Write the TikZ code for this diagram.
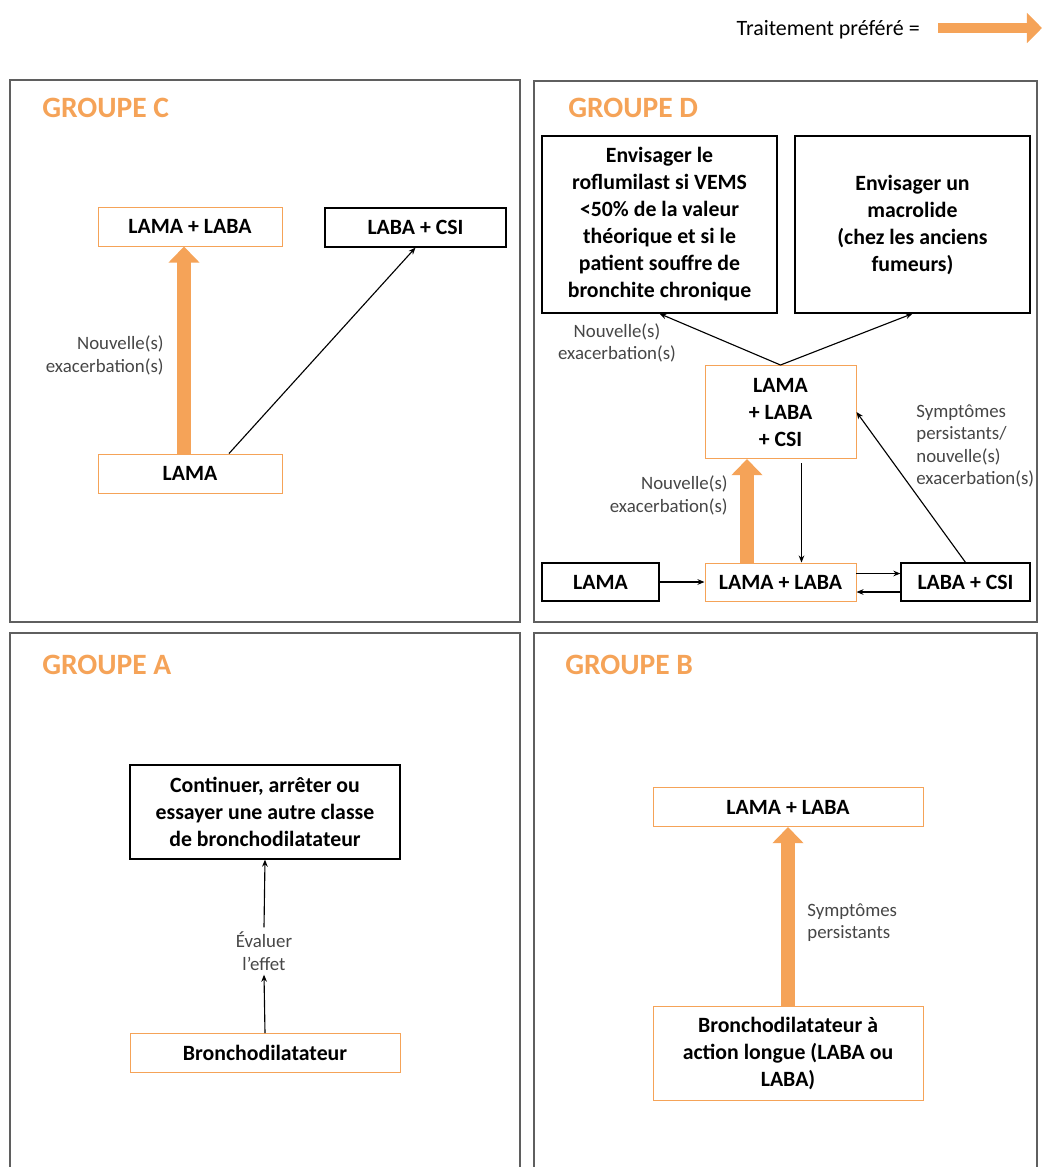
\documentclass[tikz,border=0pt]{standalone}
\usepackage{fontspec}
\setmainfont{Carlito}
\usetikzlibrary{arrows.meta,calc}

\definecolor{prefOrange}{RGB}{245,163,88}
\definecolor{labelGray}{RGB}{70,70,70}
\definecolor{frameGray}{RGB}{95,95,95}

\tikzset{
  panel/.style={draw=frameGray, line width=1.1pt},
  box/.style={draw=black, line width=0.9pt, fill=white, inner sep=0pt, align=center,
    font=\fontsize{15.5}{19.2}\selectfont\bfseries},
  prefbox/.style={box, draw=prefOrange, line width=0.7pt},
  grouptitle/.style={anchor=west, inner sep=0pt, text=prefOrange,
    font=\fontsize{21}{25}\selectfont\bfseries},
  note/.style={inner sep=1.5pt, text=labelGray, font=\fontsize{13.4}{16}\selectfont},
  link/.style={-{Stealth[length=5pt,width=4pt]}, line width=0.8pt},
  pref/.style={-{Triangle[length=11.5pt,width=21.5pt]}, draw=prefOrange, line width=9.8pt},
}

\begin{document}
\begin{tikzpicture}[x=0.025cm, y=-0.025cm]
			\def\pxlen{0.025cm}

			\useasboundingbox (0,0) rectangle (1043,1167);

			% Legend
			\node[anchor=base east, inner sep=0pt, font=\fontsize{15.6}{19}\selectfont] (legText) at (920,35) {Traitement préféré =};
			\coordinate (legStart) at (938,28);
			\coordinate (legEnd) at (1042,28);
			\draw[pref, line width=6.8pt, -{Triangle[length=10.7pt,width=21pt]}] (legStart) -- (legEnd);

			% Panels
			\draw[panel] (10,80) rectangle (520,622);
			\draw[panel] (534,81) rectangle (1037,622);
			\draw[panel] (10,1175) |- (520,633) -- (520,1175);
			\draw[panel] (534,1175) |- (1037,633) -- (1037,1175);

			% Titles
			\node[grouptitle] (titleC) at (42,108) {GROUPE C};
			\node[grouptitle] (titleD) at (568,108) {GROUPE D};
			\node[grouptitle] (titleA) at (42,664.5) {GROUPE A};
			\node[grouptitle] (titleB) at (565,664.5) {GROUPE B};

			% Groupe C
			\node[prefbox, minimum width=184*\pxlen, minimum height=39*\pxlen] (cLL) at (190,226.5) {LAMA + LABA};
			\node[box, minimum width=181*\pxlen, minimum height=39*\pxlen] (cLC) at (415.5,227.5) {LABA + CSI};
			\node[prefbox, minimum width=184*\pxlen, minimum height=39*\pxlen] (cL) at (190,473.5) {LAMA};
			\node[note, anchor=east, align=right] (cNote) at (166,355.5) {Nouvelle(s)\\exacerbation(s)};

			\draw[pref] ($(cL.north)+(-6,0)$) -- ($(cLL.south)+(-6,0)$);
			\draw[link] ($(cL.north)+(39,0)$) -- (cLC.south);

			% Groupe D
			\node[box, minimum width=235*\pxlen, minimum height=177*\pxlen] (dRof) at (659.5,224.5)
				{Envisager le\\roflumilast si VEMS\\<50\% de la valeur\\théorique et si le\\patient souffre de\\bronchite chronique};
			\node[box, minimum width=235*\pxlen, minimum height=177*\pxlen] (dMac) at (912.5,224.5)
				{Envisager un\\macrolide\\(chez les anciens\\fumeurs)};
			\node[prefbox, minimum width=151*\pxlen, minimum height=93*\pxlen] (dTri) at (780.5,412) {LAMA\\+ LABA\\+ CSI};
			\node[box, minimum width=117*\pxlen, minimum height=38*\pxlen] (dL) at (600.5,582) {LAMA};
			\node[prefbox, minimum width=151*\pxlen, minimum height=38*\pxlen] (dLL) at (780.5,582) {LAMA + LABA};
			\node[box, minimum width=129*\pxlen, minimum height=38*\pxlen] (dLC) at (965.5,582) {LABA + CSI};

			\node[note, align=center] (dNoteTop) at (617,343) {Nouvelle(s)\\exacerbation(s)};
			\node[note, anchor=east, align=right] (dNoteMid) at (730,495.5) {Nouvelle(s)\\exacerbation(s)};
			\node[note, anchor=west, align=left] (dNoteRight) at (914,446) {Symptômes\\persistants/\\nouvelle(s)\\exacerbation(s)};

			\draw[link] (dTri.north) -- (dRof.south);
			\draw[link] (dTri.north) -- (dMac.south);
			\draw[pref] ($(dLL.north)+(-33.5,0)$) -- ($(dTri.south)+(-33.5,0)$);
			\draw[link] ($(dTri.south)+(21,4)$) -- ($(dLL.north)+(21,0)$);
			\draw[link] (dL.east) -- (dLL.west);
			\draw[link] ($(dLL.east)+(0,-8.5)$) -- ($(dLC.west)+(0,-8.5)$);
			\draw[link] ($(dLC.west)+(0,10)$) -- ($(dLL.east)+(0,10)$);
			\draw[link] (dLC.north) -- (dTri.east);

			% Groupe A
			\node[box, minimum width=270*\pxlen, minimum height=94*\pxlen] (aC) at (265,812)
				{Continuer, arrêter ou\\essayer une autre classe\\de bronchodilatateur};
			\node[note, align=center, inner sep=3pt] (aE) at (264,951) {Évaluer\\l’effet};
			\node[prefbox, minimum width=270*\pxlen, minimum height=39*\pxlen] (aB) at (265,1053) {Bronchodilatateur};

			\draw[link] (aB.north) -- (aE.south);
			\draw[link] (aE.north) -- (aC.south);

			% Groupe B
			\node[prefbox, minimum width=270*\pxlen, minimum height=39*\pxlen] (bLL) at (788,807) {LAMA + LABA};
			\node[prefbox, minimum width=270*\pxlen, minimum height=94*\pxlen] (bBr) at (788,1053)
				{Bronchodilatateur à\\action longue (LABA ou\\LABA)};
			\node[note, anchor=west, align=left] (bNote) at (805,922.5) {Symptômes\\persistants};

			\draw[pref] (bBr.north) -- (bLL.south);

		\end{tikzpicture}
\end{document}
